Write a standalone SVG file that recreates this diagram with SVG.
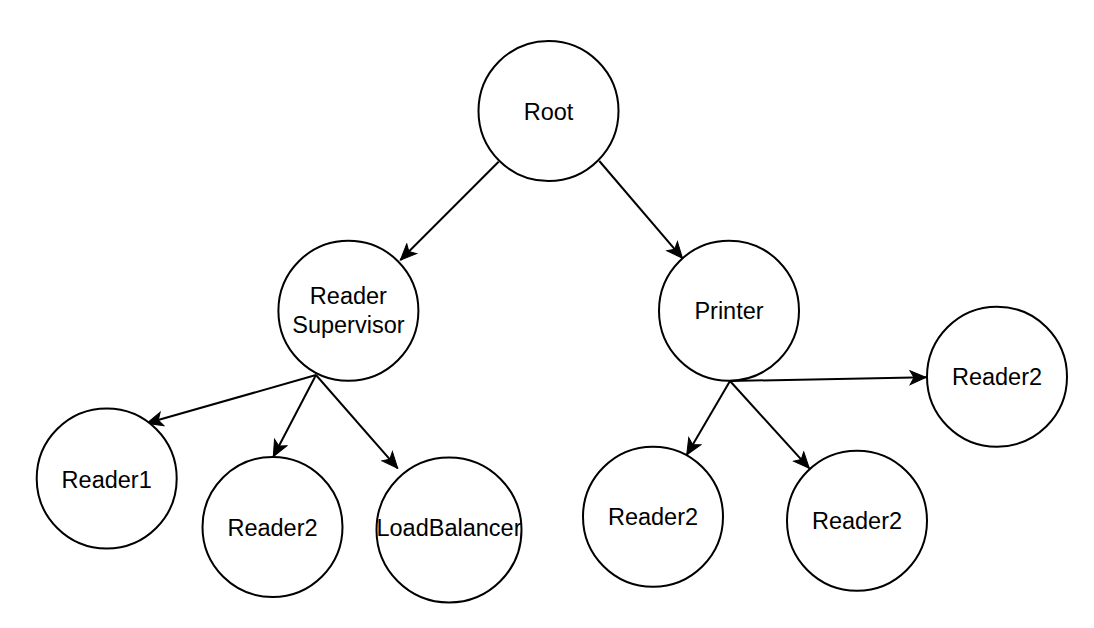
<svg xmlns="http://www.w3.org/2000/svg" width="1094" height="628" viewBox="0 0 1094 628">
<style>
.node circle{fill:#fff;stroke:#000;stroke-width:2}
.node text{font-family:"Liberation Sans",Arial,sans-serif;font-size:23.5px;fill:#000;text-anchor:middle}
.edge{fill:none;stroke:#000;stroke-width:2;marker-end:url(#arr)}
</style>
<defs>
<marker id="arr" markerUnits="userSpaceOnUse" viewBox="-1 -8 18 16" refX="16" refY="0" markerWidth="18" markerHeight="16" orient="auto">
<path d="M0,-7 L16,0 L0,7 L4,0 Z" fill="#000" stroke="#000" stroke-width="1"/>
</marker>
</defs>
<rect width="1094" height="628" fill="#fff"/>
<g id="connectors">
<line class="edge" x1="498.6" y1="161.7" x2="400.4" y2="260"/>
<line class="edge" x1="599.3" y1="161" x2="682.5" y2="258.3"/>
<line class="edge" x1="316" y1="375" x2="146.7" y2="423.3"/>
<line class="edge" x1="316" y1="375" x2="273.3" y2="456.7"/>
<line class="edge" x1="316" y1="375" x2="397.7" y2="468.3"/>
<line class="edge" x1="730" y1="381" x2="926" y2="377.3"/>
<line class="edge" x1="730" y1="381" x2="686.7" y2="455"/>
<line class="edge" x1="730" y1="381" x2="809.3" y2="468.3"/>
</g>
<g id="root" class="node"><circle cx="548.5" cy="111" r="70"/><text x="548.5" y="119.5">Root</text></g>
<g id="reader-supervisor" class="node"><circle cx="348.4" cy="310.7" r="70"/><text x="348.4" y="304">Reader</text><text x="348.4" y="332.7">Supervisor</text></g>
<g id="printer" class="node"><circle cx="729" cy="310.7" r="70"/><text x="729" y="318.7">Printer</text></g>
<g id="reader1" class="node"><circle cx="106.7" cy="478.5" r="70"/><text x="106.7" y="487.7">Reader1</text></g>
<g id="reader2-a" class="node"><circle cx="272.5" cy="527" r="70"/><text x="272.5" y="535.7">Reader2</text></g>
<g id="loadbalancer" class="node"><circle cx="449" cy="530" r="72.5"/><text x="449" y="535.7">LoadBalancer</text></g>
<g id="reader2-b" class="node"><circle cx="997" cy="376.7" r="70"/><text x="997" y="385">Reader2</text></g>
<g id="reader2-c" class="node"><circle cx="653" cy="516.7" r="70"/><text x="653" y="525">Reader2</text></g>
<g id="reader2-d" class="node"><circle cx="857" cy="520.7" r="70"/><text x="857" y="529">Reader2</text></g>
</svg>
